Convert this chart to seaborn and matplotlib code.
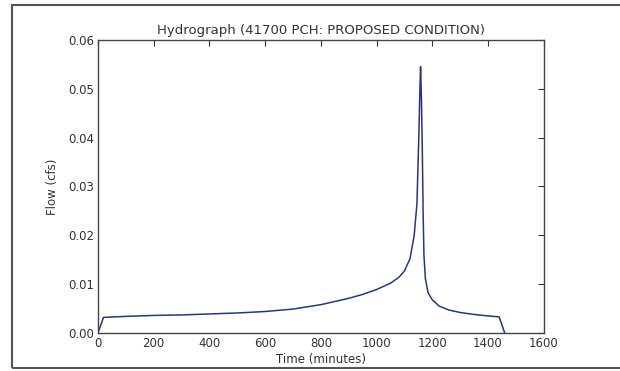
import numpy as np
import pandas as pd
import matplotlib
matplotlib.use("Agg")
import matplotlib.pyplot as plt
import seaborn as sns
from matplotlib.patches import Rectangle

# Hydrograph values
time_min = [0, 20, 100, 200, 300, 400, 500, 600, 700, 800, 900, 950, 1000,
            1050, 1080, 1100, 1120, 1135, 1145, 1152, 1156, 1158, 1161, 1164,
            1167, 1170, 1175, 1185, 1200, 1225, 1260, 1300, 1350, 1400, 1440, 1460]
flow_cfs = [0.0, 0.0032, 0.0034, 0.0036, 0.0037, 0.0039, 0.0041, 0.0044, 0.0049,
            0.0058, 0.0071, 0.0079, 0.0089, 0.0102, 0.0114, 0.0127, 0.0152, 0.0200,
            0.0265, 0.0410, 0.0510, 0.0545, 0.0480, 0.0380, 0.0250, 0.0160, 0.0112,
            0.0082, 0.0068, 0.0055, 0.0047, 0.0042, 0.0038, 0.0035, 0.0033, 0.0]

x_ticks = [0, 200, 400, 600, 800, 1000, 1200, 1400, 1600]
y_ticks = [0.00, 0.01, 0.02, 0.03, 0.04, 0.05, 0.06]

df = pd.DataFrame({"Time": time_min, "Flow": flow_cfs})

sns.set_style("white")
plt.rcParams["font.family"] = ["DejaVu Sans"]
plt.rcParams["xtick.direction"] = "in"
plt.rcParams["ytick.direction"] = "in"

fig = plt.figure(figsize=(6.2, 3.71), dpi=100)
ax = fig.add_axes([0.158, 0.1024, 0.719, 0.79])

sns.lineplot(data=df, x="Time", y="Flow", ax=ax, color="#2a3580", linewidth=1.1)

ax.set_xlim(0, 1600)
ax.set_ylim(0, 0.06)
ax.set_xticks(x_ticks)
ax.set_yticks(y_ticks)
ax.set_yticklabels([f"{v:.2f}" for v in y_ticks])
ax.tick_params(axis="both", labelsize=8.5, colors="#333333", length=4, width=0.8,
               top=True, right=True, pad=3)
for s in ax.spines.values():
    s.set_color("#444444")
    s.set_linewidth(1.0)

ax.set_title("Hydrograph (41700 PCH: PROPOSED CONDITION)", fontsize=9.5, color="#333333", pad=4)
ax.set_xlabel("Time (minutes)", fontsize=8.5, color="#333333", labelpad=2)
ax.set_ylabel("Flow (cfs)", fontsize=8.5, color="#333333", labelpad=6)

# outer frame of the screenshot (open on the right side)
fig.patches.append(Rectangle((12 / 620, 3 / 371), 1.2, 1 - 8 / 371, transform=fig.transFigure,
                             fill=False, edgecolor="#555555", linewidth=1.5))

fig.savefig("out.png", dpi=100)
